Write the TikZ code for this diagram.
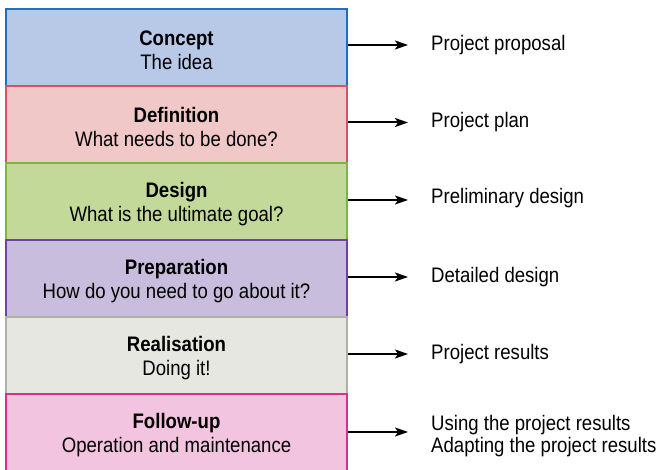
\documentclass[tikz,border=0pt]{standalone}
\usepackage{fontspec}
\setmainfont{Liberation Sans}[FakeStretch=0.885]
\usetikzlibrary{arrows.meta}
\definecolor{f1}{HTML}{B8C8E7}\definecolor{d1}{HTML}{1F6FC0}
\definecolor{f2}{HTML}{F0C8C8}\definecolor{d2}{HTML}{D8506A}
\definecolor{f3}{HTML}{C2D99A}\definecolor{d3}{HTML}{7AB83A}
\definecolor{f4}{HTML}{C8BDDD}\definecolor{d4}{HTML}{7040A8}
\definecolor{f5}{HTML}{E6E7E1}\definecolor{d5}{HTML}{B0B0A4}
\definecolor{f6}{HTML}{F2C4E0}\definecolor{d6}{HTML}{D8308F}
\tikzset{
  phase/.style={draw=#1, line width=1.2pt, minimum width=341pt, minimum height=77pt, inner sep=0pt, align=center, font=\fontsize{21}{24}\selectfont},
  outlabel/.style={anchor=west, align=left, inner sep=0pt, font=\fontsize{21}{22}\selectfont},
  outarrow/.style={line width=2pt, -{Stealth[length=13pt,width=9pt,inset=3pt]}}
}
\begin{document}
\begin{tikzpicture}[x=1pt,y=1pt]
\useasboundingbox (0,0) rectangle (661,470);
\node[phase=d1, fill=f1] (b1) at (176.5,422.5) {\rule{0pt}{21pt}\textbf{Concept}\\The idea};
\node[phase=d2, fill=f2] (b2) at (176.5,345.5) {\rule{0pt}{21pt}\textbf{Definition}\\What needs to be done?};
\node[phase=d3, fill=f3] (b3) at (176.5,268.5) {\rule{0pt}{21pt}\textbf{Design}\\What is the ultimate goal?};
\node[phase=d4, fill=f4] (b4) at (176.5,191.5) {\rule{0pt}{21pt}\textbf{Preparation}\\How do you need to go about it?};
\node[phase=d5, fill=f5] (b5) at (176.5,114.5) {\rule{0pt}{21pt}\textbf{Realisation}\\Doing it!};
\node[phase=d6, fill=f6] (b6) at (176.5,37.5) {\rule{0pt}{21pt}\textbf{Follow-up}\\Operation and maintenance};
\node[outlabel] (l1) at (431,425) {Project proposal};
\node[outlabel] (l2) at (431,347.5) {Project plan};
\node[outlabel] (l3) at (431,272) {Preliminary design};
\node[outlabel] (l4) at (431,193) {Detailed design};
\node[outlabel] (l5) at (431,116) {Project results};
\node[outlabel] (l6) at (431,34) {Using the project results\\Adapting the project results};
\coordinate (t1) at (408,425); \coordinate (t2) at (408,347.5);
\coordinate (t3) at (408,270); \coordinate (t4) at (408,193);
\coordinate (t5) at (408,116); \coordinate (t6) at (408,38);
\foreach \i in {1,...,6}{
  \draw[outarrow] (b\i.east |- t\i) -- (t\i);
}
\end{tikzpicture}
\end{document}
